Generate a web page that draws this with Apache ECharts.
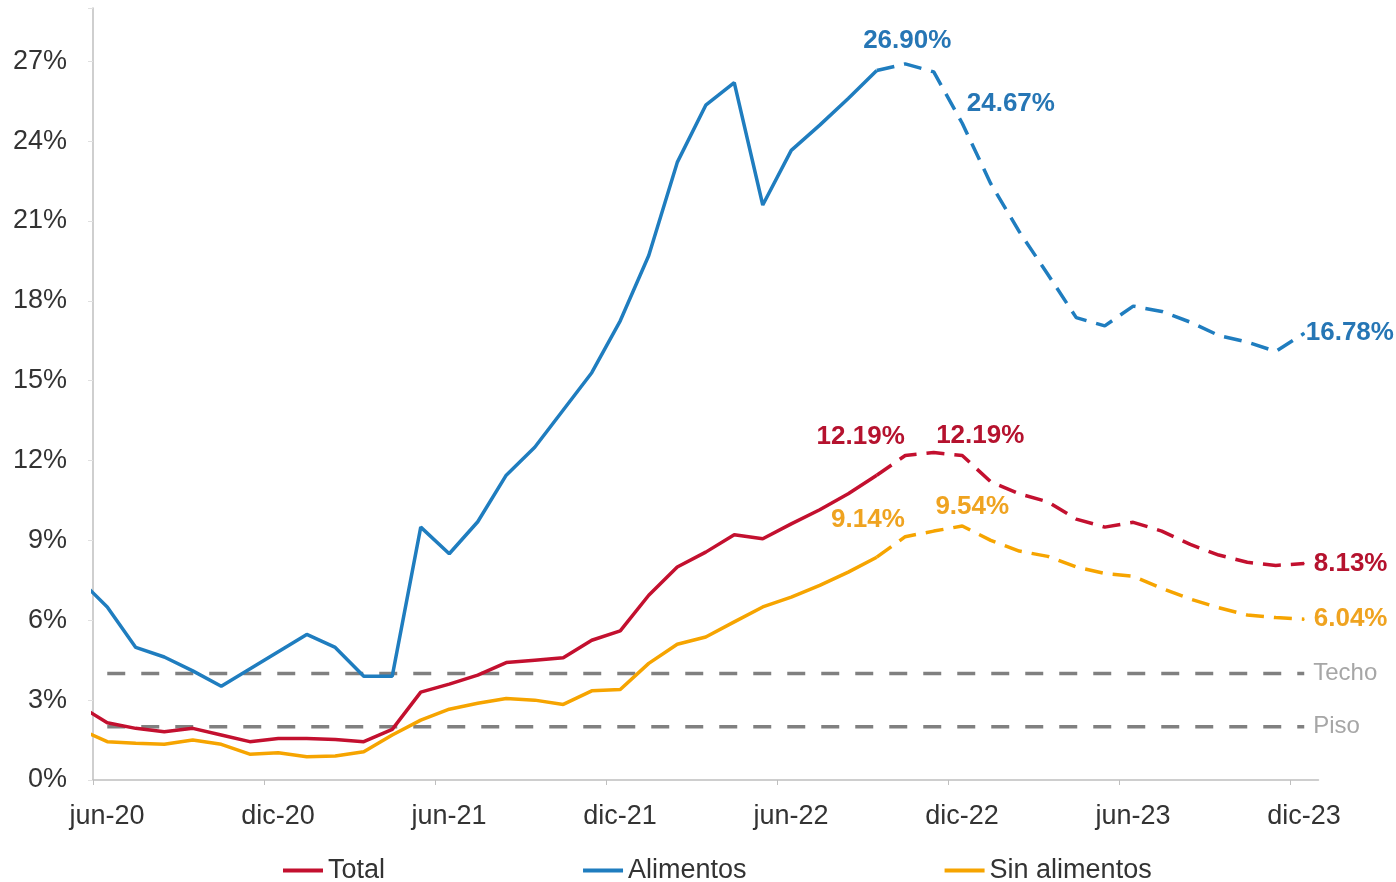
<!DOCTYPE html>
<html>
<head>
<meta charset="utf-8">
<title>Inflación anual</title>
<script src="https://cdn.jsdelivr.net/npm/echarts@6/dist/echarts.min.js"></script>
<style>
  html, body { margin: 0; padding: 0; background: #fff; }
  #chart { width: 1396px; height: 882px; }
</style>
</head>
<body>
<div id="chart"></div>
<script>
// may-20 is only there so the line enters the plot from the left edge
const months = [
  'may-20', 'jun-20', 'jul-20', 'ago-20', 'sep-20', 'oct-20', 'nov-20', 'dic-20',
  'ene-21', 'feb-21', 'mar-21', 'abr-21', 'may-21', 'jun-21', 'jul-21', 'ago-21', 'sep-21', 'oct-21', 'nov-21', 'dic-21',
  'ene-22', 'feb-22', 'mar-22', 'abr-22', 'may-22', 'jun-22', 'jul-22', 'ago-22', 'sep-22', 'oct-22', 'nov-22', 'dic-22',
  'ene-23', 'feb-23', 'mar-23', 'abr-23', 'may-23', 'jun-23', 'jul-23', 'ago-23', 'sep-23', 'oct-23', 'nov-23', 'dic-23'
];
const total = [
  2.81, 2.15, 1.94, 1.81, 1.94, 1.69, 1.44, 1.56,
  1.56, 1.52, 1.44, 1.90, 3.30, 3.60, 3.94, 4.41, 4.50, 4.59, 5.25, 5.60,
  6.94, 8.00, 8.56, 9.21, 9.06, 9.62, 10.15, 10.75, 11.45, 12.19, 12.30, 12.19,
  11.20, 10.75, 10.45, 9.80, 9.50, 9.68, 9.35, 8.85, 8.45, 8.18, 8.06, 8.13
];
const alimentos = [
  7.56, 6.50, 4.98, 4.62, 4.10, 3.52, 4.17, 4.82,
  5.47, 4.98, 3.90, 3.90, 9.50, 8.50, 9.70, 11.45, 12.50, 13.90, 15.30, 17.25,
  19.70, 23.20, 25.35, 26.20, 21.60, 23.65, 24.60, 25.60, 26.65, 26.90, 26.60, 24.67,
  22.40, 20.60, 19.00, 17.37, 17.06, 17.80, 17.60, 17.20, 16.70, 16.45, 16.10, 16.78
];
const sinAlimentos = [
  1.92, 1.44, 1.38, 1.34, 1.50, 1.34, 0.97, 1.02,
  0.87, 0.90, 1.06, 1.69, 2.25, 2.66, 2.88, 3.06, 3.00, 2.84, 3.35, 3.40,
  4.38, 5.10, 5.37, 5.94, 6.50, 6.87, 7.31, 7.81, 8.37, 9.14, 9.35, 9.54,
  9.00, 8.60, 8.40, 8.00, 7.76, 7.65, 7.20, 6.80, 6.47, 6.20, 6.10, 6.04
];
const techo = 4;
const piso = 2;
const lastActual = 'sep-22';

const FONT = '"Liberation Sans", Arial, Helvetica, sans-serif';
const RED = '#C3102F';
const BLUE = '#1F7DBF';
const ORANGE = '#F6A400';
const GRAY = '#808080';

const split = months.indexOf(lastActual);
const xOf = (i) => i - 0.5; // jun-20 sits in the middle of the first month band

function points(values, from, to, labels) {
  const out = [];
  for (let i = from; i <= to; i++) {
    const item = { value: [xOf(i), values[i]] };
    const lab = labels[months[i]];
    if (lab) {
      item.symbol = 'circle';
      item.symbolSize = 1;
      item.label = Object.assign({ show: true }, lab);
    }
    out.push(item);
  }
  return out;
}

function pair(name, values, color, labelColor, labels) {
  const label = {
    show: false,
    fontFamily: FONT,
    fontWeight: 'bold',
    fontSize: 26,
    color: labelColor,
    formatter: (p) => p.value[1].toFixed(2) + '%'
  };
  const base = {
    name: name,
    type: 'line',
    symbol: 'none',
    color: color,
    label: label,
    z: 3
  };
  return [
    Object.assign({}, base, {
      data: points(values, 0, split, {}),
      lineStyle: { color: color, width: 3.5 }
    }),
    Object.assign({}, base, {
      data: points(values, split, months.length - 1, labels),
      lineStyle: { color: color, width: 3.5, type: [18, 10] }
    })
  ];
}

function band(name, value) {
  return {
    name: name,
    type: 'line',
    symbol: 'none',
    silent: true,
    z: 2,
    data: months.slice(1).map((m, j) => [xOf(j + 1), value]),
    lineStyle: { color: GRAY, width: 3.5, type: [18, 16] },
    endLabel: {
      show: true,
      formatter: name,
      distance: 9,
      fontFamily: FONT,
      fontSize: 24,
      color: '#A6A6A6'
    }
  };
}

const chart = echarts.init(document.getElementById('chart'));
chart.setOption({
  animation: false,
  backgroundColor: '#fff',
  textStyle: { fontFamily: FONT },
  grid: { left: 93, right: 77.5, top: 8, bottom: 102, containLabel: false },
  legend: {
    data: ['Total', 'Alimentos', 'Sin alimentos'],
    left: 278,
    top: 852,
    itemGap: 198,
    itemWidth: 40,
    itemHeight: 4,
    icon: 'rect',
    selectedMode: false,
    textStyle: { fontFamily: FONT, fontSize: 27, color: '#333' }
  },
  xAxis: {
    type: 'value',
    min: 0,
    max: 43,
    interval: 6,
    splitLine: { show: false },
    axisLine: { show: true, lineStyle: { color: '#BFBFBF', width: 1.5 } },
    axisTick: { show: true, length: 5, lineStyle: { color: '#BFBFBF' } },
    axisLabel: {
      showMaxLabel: false,
      margin: 23,
      padding: [0, 0, 0, 28],
      fontFamily: FONT,
      fontSize: 27,
      color: '#333',
      formatter: (v) => months[v + 1] || ''
    }
  },
  yAxis: {
    type: 'value',
    min: 0,
    max: 29,
    interval: 3,
    splitLine: { show: false },
    axisLine: { show: true, lineStyle: { color: '#BFBFBF', width: 1.5 } },
    axisTick: { show: true, length: 5, lineStyle: { color: '#E0E0E0' } },
    axisLabel: {
      margin: 26,
      fontFamily: FONT,
      fontSize: 27,
      color: '#333',
      formatter: (v) => (v % 3 === 0 ? v + '%' : '')
    }
  },
  series: [
    band('Techo', techo),
    band('Piso', piso),
    ...pair('Total', total, RED, '#B5122E', {
      'oct-22': { position: 'left', distance: 0, offset: [0, -19] },
      'dic-22': { position: 'top', distance: 6, offset: [18, 0] },
      'dic-23': { position: 'right', distance: 9 }
    }),
    ...pair('Alimentos', alimentos, BLUE, '#2676B5', {
      'oct-22': { position: 'top', distance: 10, offset: [2, 0] },
      'dic-22': { position: 'right', distance: 4, offset: [0, -19] },
      'dic-23': { position: 'right', distance: 1, offset: [0, 0] }
    }),
    ...pair('Sin alimentos', sinAlimentos, ORANGE, '#EFA320', {
      'oct-22': { position: 'left', distance: 0, offset: [0, -17] },
      'dic-22': { position: 'top', distance: 6, offset: [10, 0] },
      'dic-23': { position: 'right', distance: 9 }
    })
  ]
});
</script>
</body>
</html>
